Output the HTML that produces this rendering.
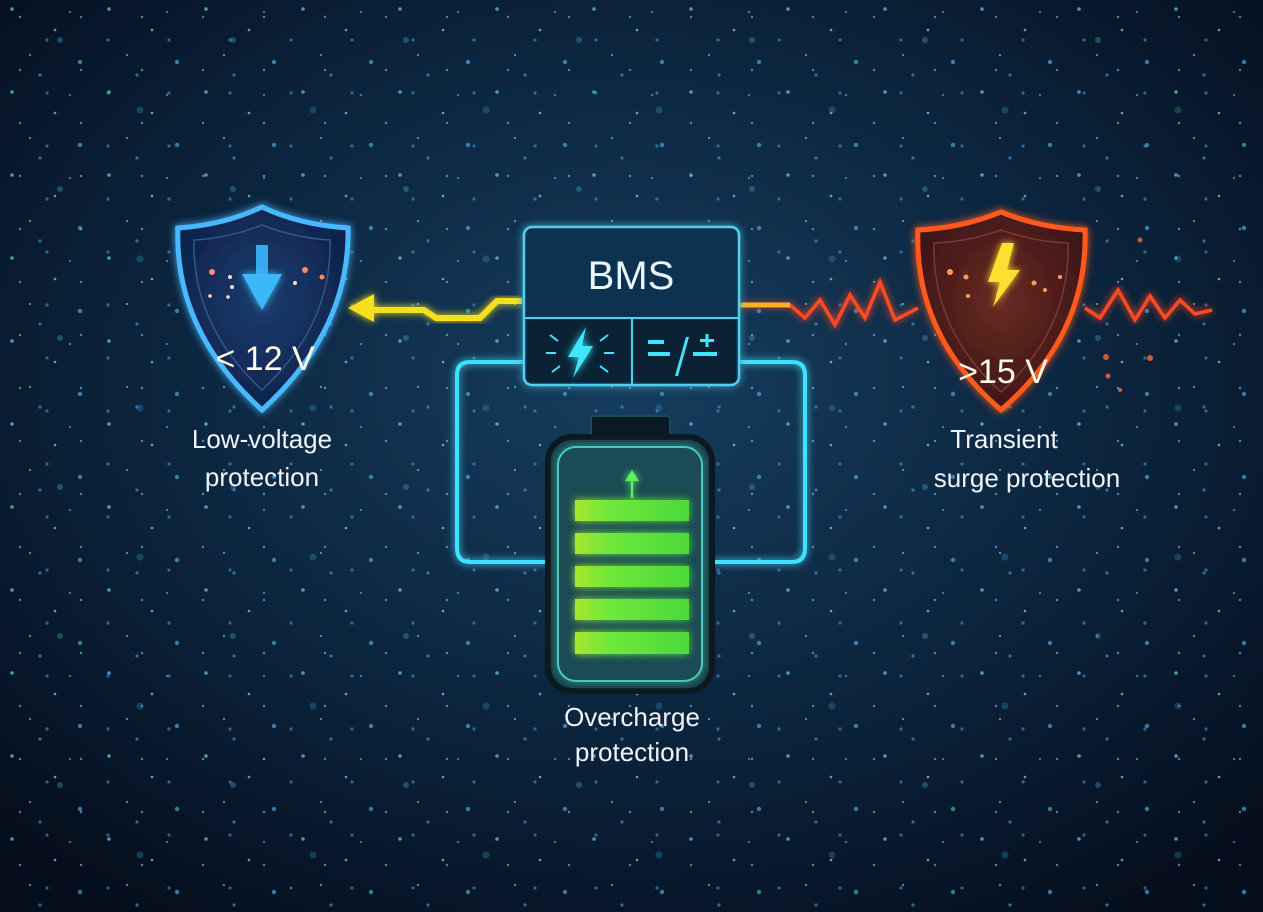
<!DOCTYPE html>
<html><head><meta charset="utf-8"><style>
html,body{margin:0;padding:0;background:#071527;}
svg{display:block}
text{font-family:"Liberation Sans","DejaVu Sans",sans-serif}
</style></head><body>
<svg width="1263" height="912" viewBox="0 0 1263 912" xmlns="http://www.w3.org/2000/svg">
<defs>
<radialGradient id="bg" cx="50%" cy="42%" r="70%">
<stop offset="0" stop-color="#163d5e"/><stop offset="0.5" stop-color="#0c2640"/><stop offset="1" stop-color="#050e1c"/>
</radialGradient>
<pattern id="stars" width="97" height="83" patternUnits="userSpaceOnUse">
<circle cx="12" cy="9" r="1.8" fill="#5fb4e6" opacity=".8"/>
<circle cx="55" cy="30" r="1.3" fill="#8fd2ff" opacity=".7"/>
<circle cx="80" cy="62" r="2.2" fill="#4aa5dc" opacity=".7"/>
<circle cx="30" cy="55" r="1.1" fill="#9fd8ff" opacity=".6"/>
<circle cx="70" cy="12" r="1.1" fill="#6cc0f0" opacity=".6"/>
<circle cx="40" cy="75" r="1.6" fill="#3d8fc8" opacity=".7"/>
</pattern>
<pattern id="stars2" width="61" height="53" patternUnits="userSpaceOnUse">
<circle cx="20" cy="17" r="1.2" fill="#7ccaf6" opacity=".6"/>
<circle cx="47" cy="40" r="1.6" fill="#4a9fd6" opacity=".55"/>
</pattern>
<pattern id="stars3" width="173" height="149" patternUnits="userSpaceOnUse">
<circle cx="60" cy="40" r="3" fill="#4aa8e0" opacity=".35"/>
<circle cx="140" cy="110" r="3.5" fill="#3a98d0" opacity=".3"/>
</pattern>
<filter id="glow" x="-30%" y="-30%" width="160%" height="160%"><feGaussianBlur stdDeviation="4" result="b"/><feMerge><feMergeNode in="b"/><feMergeNode in="SourceGraphic"/></feMerge></filter>
<linearGradient id="bar" x1="0" x2="1"><stop offset="0" stop-color="#a6e62c"/><stop offset="0.3" stop-color="#6fe83a"/><stop offset="1" stop-color="#4cd83a"/></linearGradient>
<radialGradient id="redg" cx="50%" cy="45%" r="60%"><stop offset="0" stop-color="#6a2a22"/><stop offset="1" stop-color="#3a1418"/></radialGradient>
<radialGradient id="blueg" cx="50%" cy="45%" r="60%"><stop offset="0" stop-color="#1c3d70"/><stop offset="1" stop-color="#0d2048"/></radialGradient>
</defs>
<rect width="1263" height="912" fill="url(#bg)"/>
<rect width="1263" height="912" fill="url(#stars)"/>
<rect width="1263" height="912" fill="url(#stars2)"/>
<rect width="1263" height="912" fill="url(#stars3)"/>

<path d="M524 362 H470 Q457 362 457 375 V548 Q457 562 470 562 H548 M712 562 H792 Q805 562 805 548 V375 Q805 362 792 362 H740" fill="none" stroke="#3fe0ff" stroke-width="4" filter="url(#glow)"/>
<line x1="630" y1="385" x2="630" y2="418" stroke="#3fe0ff" stroke-width="4" filter="url(#glow)"/>

<path d="M522 301 H497 L480 318 H436 L424 310 H372" fill="none" stroke="#f4e01a" stroke-width="6" filter="url(#glow)"/>
<polygon points="348,308 374,294 374,322" fill="#f4e01a" filter="url(#glow)"/>

<path d="M740 305 H790 L805 318 L820 300 L835 325 L850 295 L865 318 L880 282 L895 320 L918 308 M1085 308 L1100 318 L1118 290 L1135 320 L1150 296 L1165 318 L1180 300 L1195 314 L1212 310" fill="none" stroke="#ff4a24" stroke-width="3.5" filter="url(#glow)"/>
<path d="M740 305 H790" stroke="#ffb020" stroke-width="5"/>

<rect x="524" y="227" width="215" height="158" rx="8" fill="#0f3150" stroke="#4fd0f0" stroke-width="2.5" filter="url(#glow)"/>
<rect x="527" y="320" width="103" height="62" fill="#0a2234"/>
<rect x="634" y="320" width="102" height="62" fill="#0a2234"/>
<line x1="524" y1="318" x2="739" y2="318" stroke="#4fd0f0" stroke-width="2"/>
<line x1="632" y1="318" x2="632" y2="385" stroke="#4fd0f0" stroke-width="2"/>
<text x="631" y="289" font-size="40" fill="#eaf6ff" text-anchor="middle">BMS</text>
<polygon points="586,327 568,357 579,357 573,378 593,346 582,346" fill="#3fe6ff" filter="url(#glow)"/>
<g stroke="#3fe6ff" stroke-width="2">
<path d="M550 335 l8 6 M608 335 l-8 6 M546 353 l10 0 M604 353 l10 0 M552 372 l8 -6 M608 372 l-8 -6"/>
</g>
<g fill="#3fe6ff">
<rect x="648" y="340" width="16" height="4"/><rect x="648" y="352" width="22" height="4"/><rect x="693" y="352" width="24" height="4"/>
<rect x="700" y="339" width="14" height="3"/><rect x="705.5" y="334" width="3" height="13"/>
<polygon points="686,337 689,337 678,376 675,376"/>
</g>

<rect x="591" y="416" width="79" height="22" rx="3" fill="#0a1a22" stroke="#1d4a58" stroke-width="2"/>
<rect x="548" y="437" width="164" height="254" rx="24" fill="#17404a" stroke="#0c1a20" stroke-width="6"/>
<rect x="558" y="447" width="144" height="234" rx="18" fill="#1c4d56" stroke="#4fd8c8" stroke-width="2" opacity=".9" filter="url(#glow)"/>
<g filter="url(#glow)">
<rect x="575" y="500" width="114" height="21" fill="url(#bar)"/>
<rect x="575" y="533" width="114" height="21" fill="url(#bar)"/>
<rect x="575" y="566" width="114" height="21" fill="url(#bar)"/>
<rect x="575" y="599" width="114" height="21" fill="url(#bar)"/>
<rect x="575" y="632" width="114" height="22" fill="url(#bar)"/>
<line x1="632" y1="498" x2="632" y2="478" stroke="#5cf060" stroke-width="2.5"/>
<polygon points="632,470 625,481 639,481" fill="#5cf060"/>
</g>

<path d="M262 207 Q300 225 348 228 Q350 330 262 410 Q174 330 178 228 Q224 225 262 207 Z" fill="url(#blueg)" stroke="#4ab8ff" stroke-width="5" filter="url(#glow)"/>
<path d="M262 225 Q295 238 330 240 Q332 325 262 390 Q192 325 194 240 Q229 238 262 225 Z" fill="none" stroke="#2d5a8a" stroke-width="1.5"/>
<rect x="256" y="245" width="12" height="30" fill="#3aa8ee"/>
<polygon points="242,274 282,274 262,310" fill="#3ab8f8" filter="url(#glow)"/>
<g fill="#ff8a6a"><circle cx="212" cy="272" r="3"/><circle cx="305" cy="270" r="3"/><circle cx="322" cy="277" r="2.5"/></g>
<g fill="#ffd8c8"><circle cx="230" cy="277" r="2"/><circle cx="232" cy="287" r="2"/><circle cx="295" cy="283" r="2"/><circle cx="228" cy="297" r="1.8"/><circle cx="210" cy="296" r="1.8"/></g>
<text x="265" y="370" font-size="34" fill="#fffbe6" text-anchor="middle">&lt; 12 V</text>

<path d="M1001 212 Q1040 228 1085 230 Q1088 335 1001 410 Q914 335 918 230 Q962 228 1001 212 Z" fill="url(#redg)" stroke="#ff5a1e" stroke-width="5" filter="url(#glow)"/>
<path d="M1001 230 Q1035 242 1068 243 Q1070 330 1001 392 Q932 330 934 243 Q967 242 1001 230 Z" fill="none" stroke="#7a3a30" stroke-width="1.5"/>
<polygon points="1002,243 988,282 1000,282 993,307 1020,270 1007,270 1014,243" fill="#ffe030" filter="url(#glow)"/>
<g fill="#ff9a5a"><circle cx="950" cy="272" r="3"/><circle cx="966" cy="277" r="2.5"/><circle cx="1034" cy="283" r="2.5"/><circle cx="1045" cy="290" r="2"/><circle cx="1060" cy="277" r="2"/><circle cx="968" cy="296" r="2"/></g>
<text x="1003" y="383" font-size="34" fill="#fffbe6" text-anchor="middle">&gt;15 V</text>
<g fill="#ff6a30" opacity=".8"><circle cx="1106" cy="357" r="3"/><circle cx="1150" cy="358" r="3"/><circle cx="1108" cy="376" r="2.5"/><circle cx="1120" cy="390" r="2"/><circle cx="1140" cy="240" r="2.5"/></g>

<g font-size="26" fill="#f0f4f8" text-anchor="middle">
<text x="262" y="448">Low-voltage</text>
<text x="262" y="486">protection</text>
<text x="1004" y="448">Transient</text>
<text x="1027" y="487">surge protection</text>
<text x="632" y="726">Overcharge</text>
<text x="632" y="761">protection</text>
</g>
</svg>
</body></html>
